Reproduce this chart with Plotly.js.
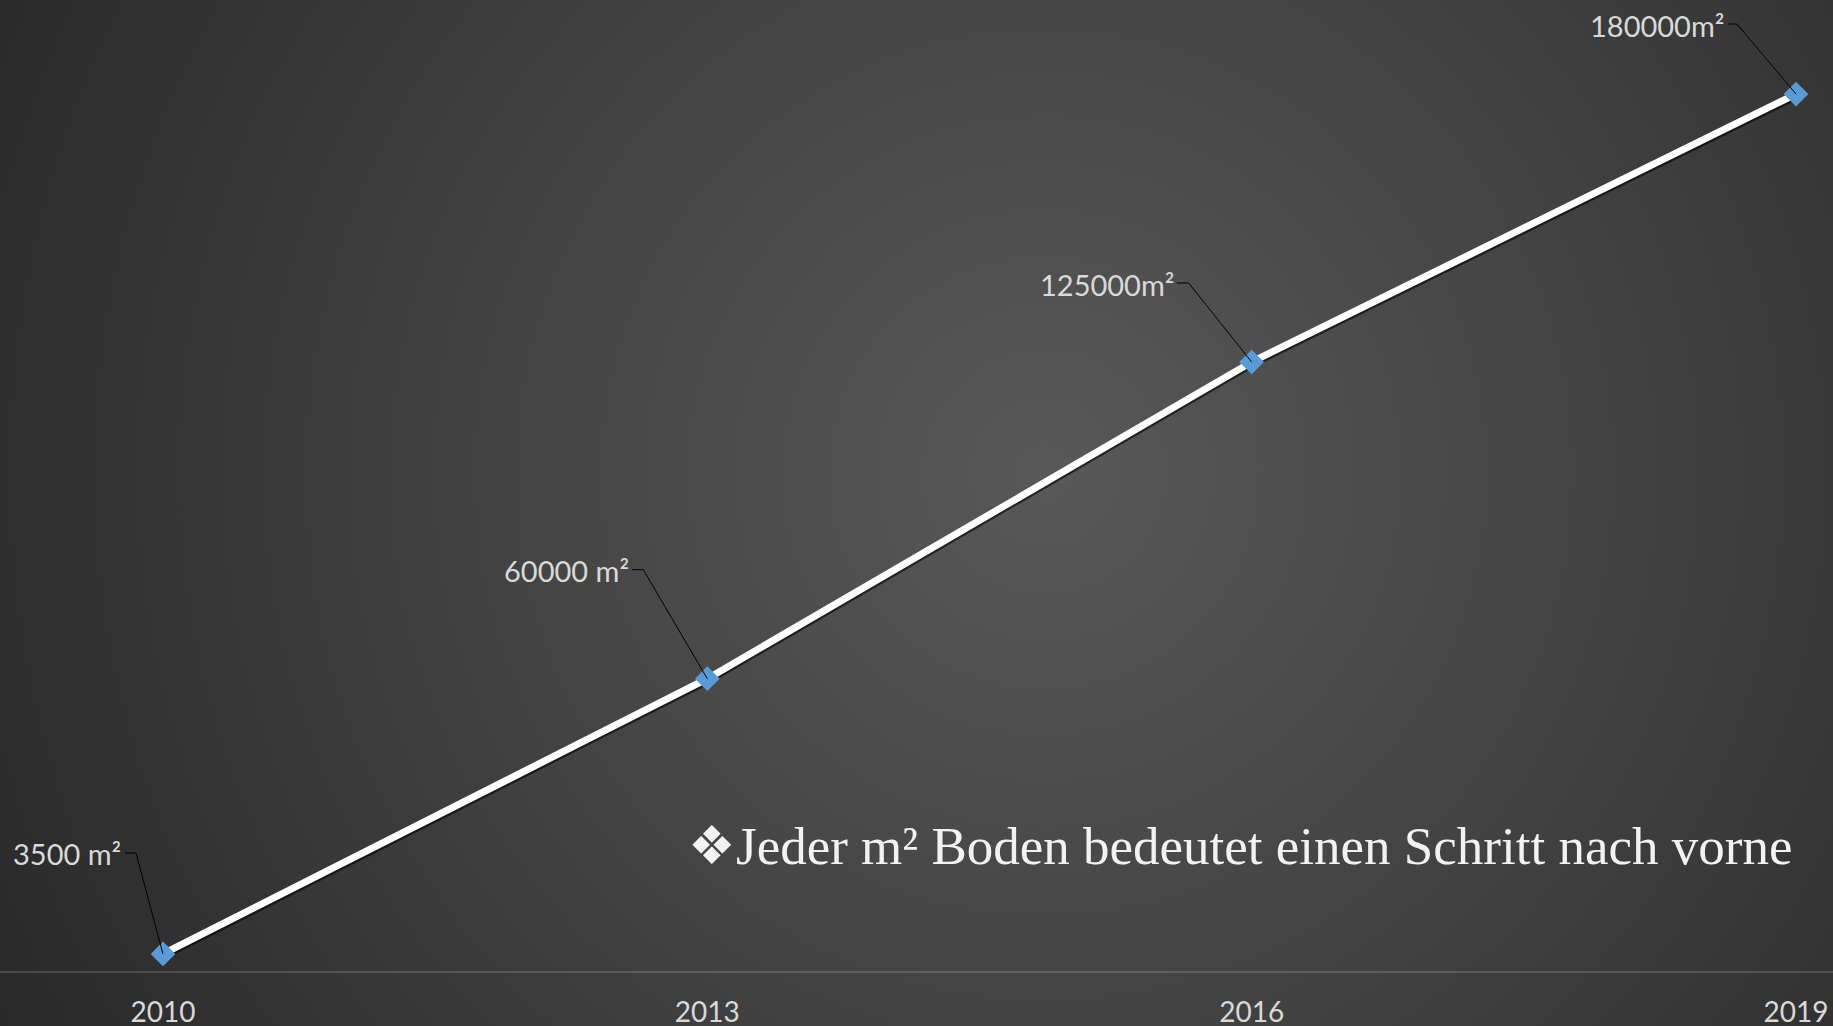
<!DOCTYPE html>
<html>
<head>
<meta charset="utf-8">
<script src="https://cdn.plot.ly/plotly-3.0.1.min.js"></script>
<style>
  html, body { margin: 0; padding: 0; width: 1833px; height: 1026px; overflow: hidden; }
  #chart {
    width: 1833px; height: 1026px;
    background: radial-gradient(circle 1250px at 57% 46%, #585858 0%, #4a4a4a 30%, #2a2a2a 92%, #282828 100%);
  }
</style>
</head>
<body>
<div id="chart"></div>
<script>
// ---- data ----
const years = ["2010", "2013", "2016", "2019"];
const areas = [3500, 60000, 125000, 180000];
const pointLabels = ["3500 m²", "60000 m²", "125000m²", "180000m²"];
const slogan = "❖Jeder m² Boden bedeutet einen Schritt nach vorne";

// ---- layout helpers (positions / styles only) ----
const labelOffsets = [[-40, 100], [-76, 108], [-76, 77], [-70, 69]];   // text right edge / centre, px from point
const leaderPaths = [
  "M-38,101 L-27,101 L0,0",
  "M-75,109 L-64,109 L0,0",
  "M-75,79 L-63,79 L0,0",
  "M-68,70 L-59,70 L0,0"
];

const xRange = [-0.2994, 3.068];
const yRange = [0, 199300];
const unitsPerPxY = (yRange[1] - yRange[0]) / 971;
const shadowDrop = 2.5; // px

const shadow = {
  x: years, y: areas, type: "scatter", mode: "lines",
  xaxis: "x", yaxis: "y",
  line: { color: "rgba(0,0,0,0.6)", width: 7 },
  hoverinfo: "skip", showlegend: false
};

const main = {
  x: years, y: areas, type: "scatter", mode: "lines+markers",
  xaxis: "x2", yaxis: "y2",
  line: { color: "#ffffff", width: 7 },
  marker: { symbol: "diamond", size: 19, color: "#5B9BD5", line: { width: 0 } },
  showlegend: false
};

const annotations = years.map((yr, i) => ({
  x: i, y: areas[i], xref: "x2", yref: "y2",
  text: pointLabels[i], showarrow: false,
  xanchor: "right", yanchor: "middle",
  xshift: labelOffsets[i][0], yshift: labelOffsets[i][1],
  font: { family: "Lato, 'Open Sans', sans-serif", size: 29, color: "#d9d9d9" }
}));

annotations.push({
  xref: "paper", yref: "paper", x: 1794 / 1833, y: (971 - 846) / 971,
  xanchor: "right", yanchor: "middle", showarrow: false,
  text: slogan,
  font: { family: "'Liberation Serif', 'Times New Roman', serif", size: 53, color: "#f2f2f2" }
});

const shapes = years.map((yr, i) => ({
  type: "path", xref: "x2", yref: "y2",
  xsizemode: "pixel", ysizemode: "pixel",
  xanchor: i, yanchor: areas[i],
  path: leaderPaths[i],
  line: { color: "#000000", width: 1 },
  layer: "above"
}));

const layout = {
  width: 1833, height: 1026,
  margin: { l: 0, r: 0, t: 0, b: 55, pad: 0 },
  paper_bgcolor: "rgba(0,0,0,0)",
  plot_bgcolor: "rgba(0,0,0,0)",
  xaxis: {
    type: "category", range: xRange,
    showgrid: false, zeroline: false,
    showline: true, linecolor: "rgba(255,255,255,0.14)", linewidth: 2,
    ticks: "", ticklabelstandoff: 15,
    tickfont: { family: "Lato, 'Open Sans', sans-serif", size: 28, color: "#d9d9d9" },
    fixedrange: true
  },
  yaxis: {
    range: [yRange[0] + shadowDrop * unitsPerPxY, yRange[1] + shadowDrop * unitsPerPxY],
    visible: false, fixedrange: true
  },
  xaxis2: { type: "category", overlaying: "x", anchor: "y2", range: xRange, visible: false },
  yaxis2: { overlaying: "y", anchor: "x2", range: yRange, visible: false },
  annotations: annotations,
  shapes: shapes,
  showlegend: false
};

Plotly.newPlot("chart", [shadow, main], layout, { displayModeBar: false, staticPlot: true });
</script>
</body>
</html>
